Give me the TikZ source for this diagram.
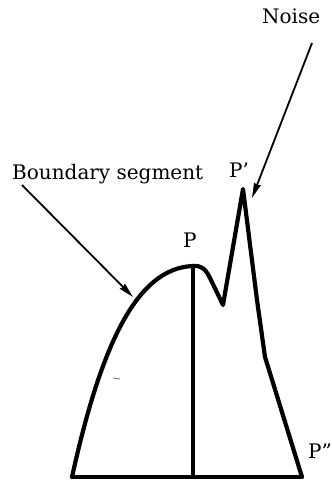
\documentclass[tikz,border=0pt]{standalone}
\usepackage{fontspec}
\setmainfont{DejaVu Serif}
\usetikzlibrary{arrows.meta}
\begin{document}
\begin{tikzpicture}[x=1pt,y=-1pt,
  lbl/.style={inner sep=0pt,anchor=base west,font=\fontsize{20}{22}\selectfont},
  pointer/.style={line width=1.8pt,-{Stealth[length=15pt,width=7pt,inset=1pt]}},
  outline/.style={line width=4.2pt,line join=round,line cap=round}]
\useasboundingbox (0,0) rectangle (332,480);
% labels
\node[lbl] (noise) at (262,23) {Noise};
\node[lbl] (bseg) at (12,179) {Boundary segment};
\node[lbl] (pp) at (229,177) {P'};
\node[lbl] (p) at (183,247) {P};
\node[lbl] (ppp) at (308,458) {P''};
% coordinates of the shape
\coordinate (bl) at (72,477);
\coordinate (br) at (302,477);
\coordinate (top) at (193,266);
\coordinate (valley) at (223,305);
\coordinate (peak) at (243,189);
\coordinate (noisestart) at (312,43);
\coordinate (noisetip) at (252,198);
\coordinate (bstart) at (22,185);
\coordinate (btip) at (133,297);
% shape
\draw[outline] (bl) .. controls (100,350) and (135,268) .. (top)
  .. controls (201,265.5) and (205,268) .. (210,278) -- (valley) -- (peak)
  -- (257,300) -- (265,357) -- (br);
\draw[line width=3.6pt] (bl) -- (br);
\draw[line width=3.2pt] (top) -- (193,477);
% arrows
\draw[pointer] (noisestart) -- (noisetip);
\draw[pointer] (bstart) -- (btip);
% small mark
\draw[line width=0.8pt,black!60] (113,378) -- (120,379);
\end{tikzpicture}
\end{document}
